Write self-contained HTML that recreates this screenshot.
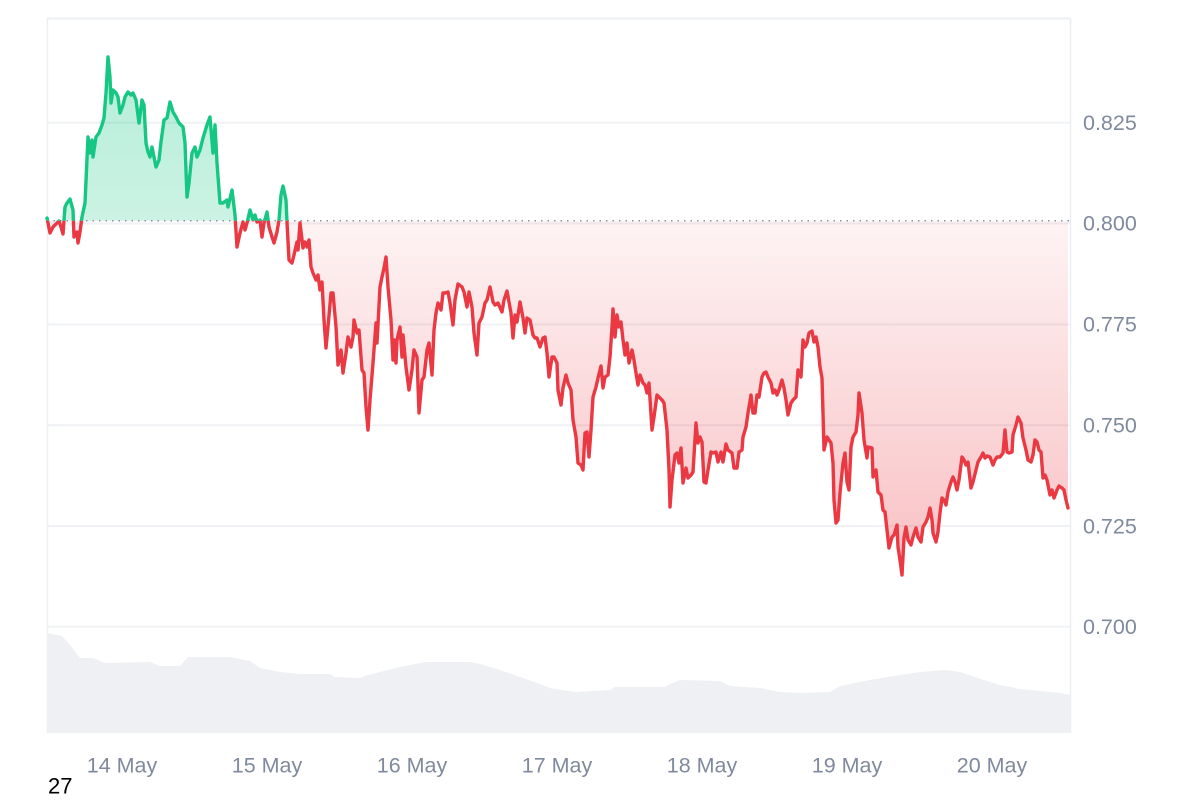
<!DOCTYPE html>
<html><head><meta charset="utf-8">
<style>
html,body{margin:0;padding:0;background:#fff;}
body{width:1200px;height:800px;overflow:hidden;position:relative;font-family:"Liberation Sans",sans-serif;}
svg{position:absolute;left:0;top:0;}
</style></head>
<body>
<svg width="1200" height="800" viewBox="0 0 1200 800" xmlns="http://www.w3.org/2000/svg">
<defs>
<clipPath id="cg"><rect x="0" y="0" width="1200" height="220.7"/></clipPath>
<clipPath id="cr"><rect x="0" y="220.7" width="1200" height="600"/></clipPath>
<linearGradient id="gg" x1="0" y1="57" x2="0" y2="221" gradientUnits="userSpaceOnUse">
<stop offset="0" stop-color="#16c784" stop-opacity="0.32"/>
<stop offset="1" stop-color="#16c784" stop-opacity="0.22"/>
</linearGradient>
<linearGradient id="gr" x1="0" y1="221" x2="0" y2="575" gradientUnits="userSpaceOnUse">
<stop offset="0" stop-color="#ea3943" stop-opacity="0.06"/>
<stop offset="1" stop-color="#ea3943" stop-opacity="0.32"/>
</linearGradient>
</defs>
<!-- frame -->
<line x1="47" y1="18.5" x2="1070" y2="18.5" stroke="#eceff2" stroke-width="2"/>
<line x1="47.5" y1="18" x2="47.5" y2="733" stroke="#eceff2" stroke-width="1.5"/>
<line x1="1070.5" y1="18" x2="1070.5" y2="733" stroke="#eceff2" stroke-width="1.5"/>
<!-- grid -->
<g stroke="#eff1f4" stroke-width="2">
<line x1="47" y1="122.7" x2="1070" y2="122.7"/>
<line x1="47" y1="223.5" x2="1070" y2="223.5"/>
<line x1="47" y1="324.5" x2="1070" y2="324.5"/>
<line x1="47" y1="425.2" x2="1070" y2="425.2"/>
<line x1="47" y1="526" x2="1070" y2="526"/>
<line x1="47" y1="626.7" x2="1070" y2="626.7"/>
</g>
<!-- volume -->
<path fill="#eef0f3" d="M47,633 L62,636 L70,645 L80,658 L93,658 L105,663 L150,662 L160,666 L180,666 L188,657 L230,657 L250,661 L260,668 L280,672 L300,674 L330,674 L335,677 L360,678 L365,676 L380,672 L400,667 L425,662 L470,662 L480,664 L500,670 L520,677 L540,684 L550,688 L575,692 L610,690 L615,687 L665,687 L670,684 L680,680 L720,681 L730,686 L760,688 L780,692 L800,693 L830,692 L840,686 L860,682 L875,679 L900,675 L920,672 L945,670 L960,672 L975,677 L990,682 L1000,685 L1020,689 L1040,691 L1060,693 L1070,695 L1070,733 L47,733 Z"/>
<!-- green fill -->
<path clip-path="url(#cg)" fill="url(#gg)" d="M47,220.7 L47,218 L50,233 L53,227 L57,223 L59,221 L61,227 L63,234 L65,207 L67,203 L70,199 L73,210 L74,237 L77,232 L78,243 L80,232 L82,217 L85,203 L88,137 L90,153 L92,140 L93,157 L96,137 L99,133 L102,125 L104,118 L106,93 L108,57 L110,77 L111,103 L113,90 L116,93 L118,97 L120,113 L123,105 L125,97 L128,92 L131,95 L133,93 L136,100 L139,123 L142,100 L144,105 L146,143 L148,152 L150,157 L152,147 L154,157 L156,167 L159,160 L161,142 L164,120 L167,118 L170,102 L173,112 L176,117 L179,123 L183,127 L185,143 L187,197 L189,183 L192,153 L195,147 L197,157 L200,150 L203,138 L207,125 L210,117 L213,153 L215,125 L217,163 L220,203 L223,203 L227,200 L228,207 L232,190 L235,215 L237,247 L240,233 L243,222 L245,230 L247,223 L250,210 L253,220 L255,215 L257,222 L260,220 L262,237 L264,223 L267,212 L269,227 L272,237 L274,243 L277,232 L279,220 L281,195 L283,186 L286,200 L287,222 L289,260 L300,223 L305,240 L305,220.7 Z"/>
<!-- red fill -->
<path clip-path="url(#cr)" fill="url(#gr)" d="M47,220.7 L47,218 L50,233 L53,227 L57,223 L59,221 L61,227 L63,234 L65,207 L67,203 L70,199 L73,210 L74,237 L77,232 L78,243 L80,232 L82,217 L85,203 L88,137 L90,153 L92,140 L93,157 L96,137 L99,133 L102,125 L104,118 L106,93 L108,57 L110,77 L111,103 L113,90 L116,93 L118,97 L120,113 L123,105 L125,97 L128,92 L131,95 L133,93 L136,100 L139,123 L142,100 L144,105 L146,143 L148,152 L150,157 L152,147 L154,157 L156,167 L159,160 L161,142 L164,120 L167,118 L170,102 L173,112 L176,117 L179,123 L183,127 L185,143 L187,197 L189,183 L192,153 L195,147 L197,157 L200,150 L203,138 L207,125 L210,117 L213,153 L215,125 L217,163 L220,203 L223,203 L227,200 L228,207 L232,190 L235,215 L237,247 L240,233 L243,222 L245,230 L247,223 L250,210 L253,220 L255,215 L257,222 L260,220 L262,237 L264,223 L267,212 L269,227 L272,237 L274,243 L277,232 L279,220 L281,195 L283,186 L286,200 L287,222 L289,260 L292,263 L294,255 L297,242 L298,250 L300,223 L303,248 L305,242 L307,247 L309,240 L311,267 L313,273 L316,280 L318,275 L320,290 L322,282 L324,320 L326,348 L328,327 L331,293 L333,293 L336,327 L338,365 L341,350 L343,373 L346,353 L348,337 L351,347 L353,337 L354,320 L357,333 L359,330 L362,370 L364,373 L366,407 L368,430 L370,400 L373,363 L376,323 L377,343 L380,287 L382,277 L384,268 L386,257 L388,287 L391,320 L393,360 L394,340 L396,363 L397,340 L400,327 L402,357 L403,335 L406,367 L409,390 L412,370 L414,350 L417,357 L419,413 L422,380 L424,377 L427,350 L429,343 L432,375 L434,330 L436,313 L438,303 L441,310 L443,293 L445,293 L448,292 L450,303 L453,325 L455,300 L458,284 L462,287 L464,292 L467,307 L469,292 L472,307 L474,333 L477,355 L479,323 L482,317 L485,303 L487,300 L490,287 L493,302 L495,305 L498,303 L502,312 L504,300 L507,291 L509,302 L511,313 L513,338 L515,315 L517,322 L520,302 L523,318 L525,333 L527,318 L530,320 L533,335 L535,338 L537,338 L540,347 L543,338 L545,337 L547,353 L549,377 L552,357 L554,357 L557,363 L558,390 L561,405 L563,388 L566,375 L568,383 L571,390 L573,420 L576,437 L578,463 L581,465 L583,470 L585,433 L587,432 L589,457 L591,430 L593,397 L596,387 L598,378 L601,366 L603,388 L605,377 L608,375 L610,357 L612,327 L613,309 L615,337 L617,315 L619,327 L621,322 L623,340 L625,355 L627,343 L629,363 L632,350 L634,360 L636,373 L638,385 L640,375 L643,383 L645,385 L647,393 L649,383 L652,430 L654,417 L657,395 L659,397 L662,400 L664,403 L667,430 L669,470 L670,507 L672,480 L675,455 L677,453 L679,463 L681,448 L683,483 L686,468 L688,478 L691,475 L693,472 L696,423 L698,443 L700,437 L702,442 L704,482 L706,483 L708,470 L711,452 L713,453 L716,452 L718,462 L721,452 L723,462 L726,444 L728,450 L732,453 L734,468 L737,468 L739,452 L742,450 L743,437 L746,427 L748,413 L751,395 L753,413 L755,413 L757,395 L759,397 L762,377 L764,373 L766,372 L768,377 L771,383 L773,393 L775,390 L777,395 L779,390 L782,380 L784,388 L786,400 L788,415 L791,403 L793,400 L796,397 L798,370 L801,377 L803,340 L805,347 L807,343 L809,333 L812,331 L814,342 L816,337 L818,347 L820,367 L822,378 L823,413 L824,450 L827,437 L829,440 L831,443 L833,463 L834,500 L836,523 L838,520 L840,493 L843,463 L845,453 L847,482 L849,490 L851,447 L853,437 L856,432 L858,415 L859,393 L862,413 L864,440 L867,458 L868,447 L872,448 L873,477 L876,470 L878,492 L881,495 L883,510 L885,512 L887,530 L889,548 L892,537 L894,535 L897,525 L898,547 L900,560 L902,575 L904,538 L906,527 L908,540 L911,545 L913,537 L916,528 L918,537 L921,542 L923,527 L926,522 L928,517 L930,508 L932,520 L933,533 L936,542 L938,532 L940,513 L942,498 L944,500 L946,505 L948,492 L951,482 L953,477 L955,482 L957,490 L959,480 L962,457 L964,460 L966,465 L968,462 L971,488 L973,482 L976,470 L978,462 L981,457 L983,453 L985,458 L987,456 L990,457 L993,465 L995,460 L997,457 L1000,457 L1003,453 L1005,430 L1007,452 L1009,453 L1012,452 L1013,435 L1016,425 L1018,417 L1021,423 L1023,438 L1026,450 L1028,460 L1031,462 L1033,455 L1035,440 L1037,442 L1039,450 L1041,452 L1043,478 L1045,475 L1047,480 L1050,495 L1052,490 L1054,498 L1057,490 L1059,486 L1062,488 L1064,490 L1066,500 L1068,508 L1068,220.7 Z"/>
<!-- baseline -->
<line x1="47" y1="220.7" x2="1070" y2="220.7" stroke="#8a92a3" stroke-width="1.5" stroke-dasharray="1.5 5"/>
<!-- green line -->
<path fill="none" stroke-width="3.4" stroke-linejoin="round" stroke-linecap="round" stroke="#16c784" clip-path="url(#cg)" d="M47,218 L50,233 L53,227 L57,223 L59,221 L61,227 L63,234 L65,207 L67,203 L70,199 L73,210 L74,237 L77,232 L78,243 L80,232 L82,217 L85,203 L88,137 L90,153 L92,140 L93,157 L96,137 L99,133 L102,125 L104,118 L106,93 L108,57 L110,77 L111,103 L113,90 L116,93 L118,97 L120,113 L123,105 L125,97 L128,92 L131,95 L133,93 L136,100 L139,123 L142,100 L144,105 L146,143 L148,152 L150,157 L152,147 L154,157 L156,167 L159,160 L161,142 L164,120 L167,118 L170,102 L173,112 L176,117 L179,123 L183,127 L185,143 L187,197 L189,183 L192,153 L195,147 L197,157 L200,150 L203,138 L207,125 L210,117 L213,153 L215,125 L217,163 L220,203 L223,203 L227,200 L228,207 L232,190 L235,215 L237,247 L240,233 L243,222 L245,230 L247,223 L250,210 L253,220 L255,215 L257,222 L260,220 L262,237 L264,223 L267,212 L269,227 L272,237 L274,243 L277,232 L279,220 L281,195 L283,186 L286,200 L287,222 L289,260 L292,263"/>
<!-- red line -->
<path fill="none" stroke-width="3.4" stroke-linejoin="round" stroke-linecap="round" stroke="#ea3943" clip-path="url(#cr)" d="M47,218 L50,233 L53,227 L57,223 L59,221 L61,227 L63,234 L65,207 L67,203 L70,199 L73,210 L74,237 L77,232 L78,243 L80,232 L82,217 L85,203 L88,137 L185,143 L187,197 L189,183 L192,153 L195,147 L197,157 L200,150 L203,138 L207,125 L210,117 L213,153 L215,125 L217,163 L220,203 L223,203 L227,200 L228,207 L232,190 L235,215 L237,247 L240,233 L243,222 L245,230 L247,223 L250,210 L253,220 L255,215 L257,222 L260,220 L262,237 L264,223 L267,212 L269,227 L272,237 L274,243 L277,232 L279,220 L281,195 L283,186 L286,200 L287,222 L289,260 L292,263 L294,255 L297,242 L298,250 L300,223 L303,248 L305,242 L307,247 L309,240 L311,267 L313,273 L316,280 L318,275 L320,290 L322,282 L324,320 L326,348 L328,327 L331,293 L333,293 L336,327 L338,365 L341,350 L343,373 L346,353 L348,337 L351,347 L353,337 L354,320 L357,333 L359,330 L362,370 L364,373 L366,407 L368,430 L370,400 L373,363 L376,323 L377,343 L380,287 L382,277 L384,268 L386,257 L388,287 L391,320 L393,360 L394,340 L396,363 L397,340 L400,327 L402,357 L403,335 L406,367 L409,390 L412,370 L414,350 L417,357 L419,413 L422,380 L424,377 L427,350 L429,343 L432,375 L434,330 L436,313 L438,303 L441,310 L443,293 L445,293 L448,292 L450,303 L453,325 L455,300 L458,284 L462,287 L464,292 L467,307 L469,292 L472,307 L474,333 L477,355 L479,323 L482,317 L485,303 L487,300 L490,287 L493,302 L495,305 L498,303 L502,312 L504,300 L507,291 L509,302 L511,313 L513,338 L515,315 L517,322 L520,302 L523,318 L525,333 L527,318 L530,320 L533,335 L535,338 L537,338 L540,347 L543,338 L545,337 L547,353 L549,377 L552,357 L554,357 L557,363 L558,390 L561,405 L563,388 L566,375 L568,383 L571,390 L573,420 L576,437 L578,463 L581,465 L583,470 L585,433 L587,432 L589,457 L591,430 L593,397 L596,387 L598,378 L601,366 L603,388 L605,377 L608,375 L610,357 L612,327 L613,309 L615,337 L617,315 L619,327 L621,322 L623,340 L625,355 L627,343 L629,363 L632,350 L634,360 L636,373 L638,385 L640,375 L643,383 L645,385 L647,393 L649,383 L652,430 L654,417 L657,395 L659,397 L662,400 L664,403 L667,430 L669,470 L670,507 L672,480 L675,455 L677,453 L679,463 L681,448 L683,483 L686,468 L688,478 L691,475 L693,472 L696,423 L698,443 L700,437 L702,442 L704,482 L706,483 L708,470 L711,452 L713,453 L716,452 L718,462 L721,452 L723,462 L726,444 L728,450 L732,453 L734,468 L737,468 L739,452 L742,450 L743,437 L746,427 L748,413 L751,395 L753,413 L755,413 L757,395 L759,397 L762,377 L764,373 L766,372 L768,377 L771,383 L773,393 L775,390 L777,395 L779,390 L782,380 L784,388 L786,400 L788,415 L791,403 L793,400 L796,397 L798,370 L801,377 L803,340 L805,347 L807,343 L809,333 L812,331 L814,342 L816,337 L818,347 L820,367 L822,378 L823,413 L824,450 L827,437 L829,440 L831,443 L833,463 L834,500 L836,523 L838,520 L840,493 L843,463 L845,453 L847,482 L849,490 L851,447 L853,437 L856,432 L858,415 L859,393 L862,413 L864,440 L867,458 L868,447 L872,448 L873,477 L876,470 L878,492 L881,495 L883,510 L885,512 L887,530 L889,548 L892,537 L894,535 L897,525 L898,547 L900,560 L902,575 L904,538 L906,527 L908,540 L911,545 L913,537 L916,528 L918,537 L921,542 L923,527 L926,522 L928,517 L930,508 L932,520 L933,533 L936,542 L938,532 L940,513 L942,498 L944,500 L946,505 L948,492 L951,482 L953,477 L955,482 L957,490 L959,480 L962,457 L964,460 L966,465 L968,462 L971,488 L973,482 L976,470 L978,462 L981,457 L983,453 L985,458 L987,456 L990,457 L993,465 L995,460 L997,457 L1000,457 L1003,453 L1005,430 L1007,452 L1009,453 L1012,452 L1013,435 L1016,425 L1018,417 L1021,423 L1023,438 L1026,450 L1028,460 L1031,462 L1033,455 L1035,440 L1037,442 L1039,450 L1041,452 L1043,478 L1045,475 L1047,480 L1050,495 L1052,490 L1054,498 L1057,490 L1059,486 L1062,488 L1064,490 L1066,500 L1068,508"/>
<!-- y labels -->
<g font-family="Liberation Sans, sans-serif" font-size="21.5" fill="#808a9d">
<text x="1083" y="130">0.825</text>
<text x="1083" y="230.5">0.800</text>
<text x="1083" y="331.5">0.775</text>
<text x="1083" y="432.5">0.750</text>
<text x="1083" y="533.5">0.725</text>
<text x="1083" y="634">0.700</text>
</g>
<!-- x labels -->
<g font-family="Liberation Sans, sans-serif" font-size="21.5" fill="#808a9d" text-anchor="middle">
<text x="122" y="772.5">14 May</text>
<text x="267" y="772.5">15 May</text>
<text x="412" y="772.5">16 May</text>
<text x="557" y="772.5">17 May</text>
<text x="702" y="772.5">18 May</text>
<text x="847" y="772.5">19 May</text>
<text x="992" y="772.5">20 May</text>
</g>
<text x="48" y="793.5" font-family="Liberation Sans, sans-serif" font-size="22" fill="#000">27</text>
</svg>
</body></html>
